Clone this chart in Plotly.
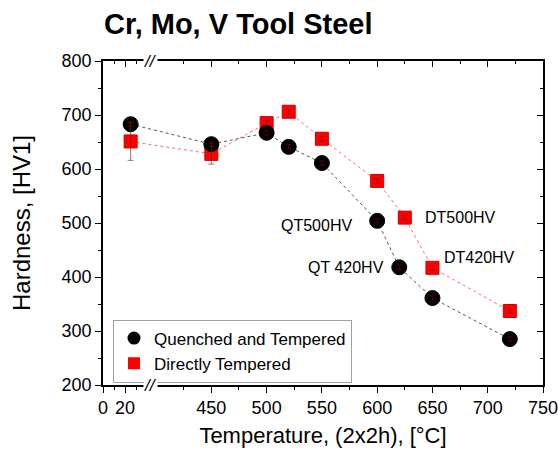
import plotly.graph_objects as go

# ---- data ----
temps = [25, 450, 500, 520, 550, 600, 620, 650, 720]
qt_hv = [683, 646, 667, 641, 611, 504, 418, 361, 285]
qt_err = [4, 4, 4, 4, 4, 4, 4, 4, 4]

dt_temps = [25, 450, 500, 520, 550, 600, 625, 650, 720]
dt_hv = [651, 628, 685, 706, 656, 578, 510, 417, 337]
dt_err = [35, 19, 4, 4, 4, 4, 4, 4, 4]

major_ticks = [0, 20, 450, 500, 550, 600, 650, 700, 750]
minor_ticks = [10, 30, 425, 475, 525, 575, 625, 675, 725]

labels = [("QT500HV", 579, 496, "right"), ("QT 420HV", 608, 417, "right"),
          ("DT500HV", 641, 511, "left"), ("DT420HV", 659, 437, "left")]

# ---- broken x-axis: left segment [0, ~40], right segment [400, 750] ----
SHIFT = 352


def bx(v):
    return v if v < 200 else v - SHIFT


X_RANGE = [0, 750 - SHIFT]
BREAK = 43.4
BP = BREAK / X_RANGE[1]          # break position as a fraction of the x domain

FONT = "Liberation Sans, Arial, sans-serif"

fig = go.Figure()

fig.add_trace(go.Scatter(
    x=[bx(v) for v in dt_temps], y=dt_hv, mode="lines+markers",
    name="Directly Tempered", showlegend=False,
    line=dict(color="#ff6b6b", width=1, dash="dot"),
    marker=dict(symbol="square", size=13, color="#ff0000",
                line=dict(color="#d00000", width=1)),
))
fig.add_trace(go.Scatter(
    x=[bx(v) for v in temps], y=qt_hv, mode="lines+markers",
    name="Quenched and Tempered", showlegend=False,
    line=dict(color="#555555", width=1, dash="dot"),
    marker=dict(symbol="circle", size=15, color="#000000",
                line=dict(color="#000000", width=1)),
))
# error bars drawn on top of the markers
fig.add_trace(go.Scatter(
    x=[bx(v) for v in dt_temps], y=dt_hv, mode="markers", showlegend=False,
    hoverinfo="skip", marker=dict(size=1, color="rgba(0,0,0,0)"),
    error_y=dict(type="data", array=dt_err, color="rgba(110,20,20,0.75)",
                 thickness=0.8, width=3),
))
fig.add_trace(go.Scatter(
    x=[bx(v) for v in temps], y=qt_hv, mode="markers", showlegend=False,
    hoverinfo="skip", marker=dict(size=1, color="rgba(0,0,0,0)"),
    error_y=dict(type="data", array=qt_err, color="rgba(140,0,0,0.8)",
                 thickness=0.8, width=3),
))
# legend entries (markers only)
fig.add_trace(go.Scatter(
    x=[None], y=[None], mode="markers", name="Quenched and Tempered",
    marker=dict(symbol="circle", size=13, color="#000000"),
))
fig.add_trace(go.Scatter(
    x=[None], y=[None], mode="markers", name="Directly Tempered",
    marker=dict(symbol="square", size=12, color="#ff0000"),
))

tickvals = [bx(v) for v in major_ticks]
ticktext = [str(v) for v in major_ticks]
minorvals = [bx(v) for v in minor_ticks]

axis_common = dict(showgrid=False, zeroline=False, showline=True,
                   linecolor="#000000", linewidth=1.5)

fig.update_layout(
    width=558, height=456,
    margin=dict(l=103, r=15, t=61, b=71),
    paper_bgcolor="white", plot_bgcolor="white",
    font=dict(family=FONT, color="#000000"),
    title=dict(text="<b>Cr, Mo, V Tool Steel</b>", x=104 / 558, xanchor="left",
               xref="container", y=1 - 24 / 456, yanchor="middle", yref="container",
               font=dict(family=FONT, size=29, color="#000000")),
    xaxis=dict(range=X_RANGE, tickmode="array", tickvals=tickvals, ticktext=ticktext,
               ticks="outside", ticklen=6, tickwidth=1.2, tickcolor="#000000",
               ticklabeloverflow="allow", automargin=False,
               minor=dict(tickmode="array", tickvals=minorvals, ticks="outside",
                          ticklen=3.5, tickwidth=1, tickcolor="#000000"),
               tickfont=dict(size=18, family=FONT),
               title=dict(text="Temperature, (2x2h), [°C]", font=dict(size=22, family=FONT),
                          standoff=10),
               **axis_common),
    xaxis2=dict(range=X_RANGE, overlaying="x", side="top", anchor="y",
                tickmode="array", tickvals=tickvals, showticklabels=False,
                ticks="inside", ticklen=6, tickwidth=1.2, tickcolor="#000000",
                minor=dict(tickmode="array", tickvals=minorvals, ticks="inside",
                           ticklen=3.5, tickwidth=1, tickcolor="#000000"),
                **axis_common),
    yaxis=dict(range=[200, 800], dtick=100, ticks="outside", ticklen=6, tickwidth=1.2,
               tickcolor="#000000",
               minor=dict(dtick=50, ticks="outside", ticklen=3.5, tickwidth=1,
                          tickcolor="#000000"),
               tickfont=dict(size=18, family=FONT),
               title=dict(text="Hardness, [HV1]", font=dict(size=24, family=FONT),
                          standoff=24),
               **axis_common),
    yaxis2=dict(range=[200, 800], dtick=100, overlaying="y", side="right", anchor="x",
                showticklabels=False, ticks="inside", ticklen=6, tickwidth=1.2,
                tickcolor="#000000",
                minor=dict(dtick=50, ticks="inside", ticklen=3.5, tickwidth=1,
                           tickcolor="#000000"),
                **axis_common),
    legend=dict(x=10 / 440, y=(385 - 351) / 324, xanchor="left", yanchor="middle",
                bordercolor="#a0a0a0", borderwidth=1, bgcolor="white",
                font=dict(size=17, family=FONT),
                tracegroupgap=0, itemwidth=30),
    showlegend=True,
)

# dummy trace so the mirrored axes are drawn
fig.add_trace(go.Scatter(x=[None], y=[None], xaxis="x2", yaxis="y2",
                         showlegend=False, hoverinfo="skip"))

# axis break marks "//" at bottom and top (decoration)
for yb in (0.0, 1.0):
    fig.add_annotation(x=BP, y=yb, xref="paper", yref="paper", text="<i>//</i>",
                       showarrow=False, xanchor="center", yanchor="middle",
                       bgcolor="white", borderpad=0,
                       font=dict(size=17, family=FONT, color="#000000"))

for text, xv, yv, anchor in labels:
    fig.add_annotation(x=bx(xv), y=yv, xref="x", yref="y", text=text, showarrow=False,
                       xanchor=anchor, yanchor="middle",
                       font=dict(size=16, family=FONT, color="#000000"))

fig.write_html("out.html")
